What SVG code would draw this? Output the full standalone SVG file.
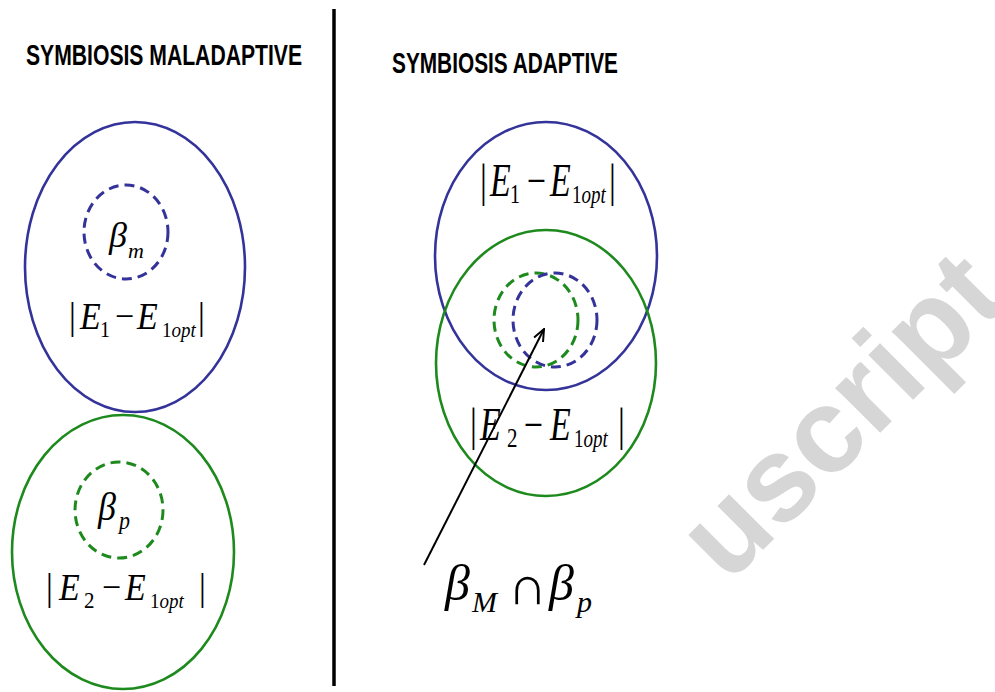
<svg xmlns="http://www.w3.org/2000/svg" width="995" height="692" viewBox="0 0 995 692">
<style>
.title{font-family:"Liberation Sans",Arial,sans-serif;font-weight:bold;font-size:30px;fill:#000}
.m{font-family:"Liberation Serif","Times New Roman",serif;fill:#000}
.i{font-style:italic}
.blue{fill:none;stroke:#333399;stroke-width:2.6}
.green{fill:none;stroke:#1e8a1e;stroke-width:2.6}
.dblue{fill:none;stroke:#333399;stroke-width:3;stroke-dasharray:10 6}
.dgreen{fill:none;stroke:#1e8a1e;stroke-width:3;stroke-dasharray:10 6}
.wm{font-family:"Liberation Sans",Arial,sans-serif;font-weight:bold;font-size:120px;fill:#d6d6d6}
</style>
<defs>
<marker id="arr" viewBox="0 0 14 12" refX="13" refY="6" markerWidth="14" markerHeight="12" markerUnits="userSpaceOnUse" orient="auto">
<path d="M1,1 L13,6 L1,11" fill="none" stroke="#000" stroke-width="2"/>
</marker>
</defs>
<rect width="995" height="692" fill="#fff"/>
<g id="watermark"><text class="wm" x="728" y="585" transform="rotate(-45 728 585)">uscript</text></g>
<g id="divider"><line x1="334" y1="9" x2="334" y2="686" stroke="#000" stroke-width="3.5"/></g>
<g id="title-maladaptive"><text class="title" x="26" y="65" textLength="276" lengthAdjust="spacingAndGlyphs">SYMBIOSIS MALADAPTIVE</text></g>
<g id="title-adaptive"><text class="title" x="392" y="73" textLength="226" lengthAdjust="spacingAndGlyphs">SYMBIOSIS ADAPTIVE</text></g>

<g id="left-blue">
<ellipse class="blue" cx="135" cy="267" rx="110" ry="145"/>
<ellipse class="dblue" cx="126" cy="232" rx="42" ry="47"/>
<text class="m" font-size="36"><tspan class="i" x="109" y="247">β</tspan><tspan class="i" x="128" y="258" font-size="22">m</tspan></text>
<g transform="translate(0,329) scale(1,1.12)">
<text class="m" font-size="34" y="0"><tspan x="69">|</tspan><tspan class="i" x="80">E</tspan><tspan x="100" y="7" font-size="20">1</tspan><tspan x="115" y="0">−</tspan><tspan class="i" x="137">E</tspan><tspan x="162" y="7" font-size="19">1</tspan><tspan class="i" font-size="19" y="7">opt</tspan><tspan x="198" y="0">|</tspan></text>
</g>
</g>

<g id="left-green">
<ellipse class="green" cx="123" cy="552" rx="111" ry="137"/>
<ellipse class="dgreen" cx="119" cy="510" rx="44" ry="48"/>
<g transform="translate(0,520) scale(1,1.12)">
<text class="m" font-size="36"><tspan class="i" x="98" y="0">β</tspan><tspan class="i" x="119" y="8" font-size="22">p</tspan></text>
</g>
<g transform="translate(0,600) scale(1,1.12)">
<text class="m" font-size="34" y="0"><tspan x="46">|</tspan><tspan class="i" x="59">E</tspan><tspan x="84" y="7" font-size="21">2</tspan><tspan x="102" y="0">−</tspan><tspan class="i" x="125">E</tspan><tspan x="150" y="7" font-size="19">1</tspan><tspan class="i" font-size="19" y="7">opt</tspan><tspan x="199" y="0">|</tspan></text>
</g>
</g>

<g id="right-blue">
<ellipse class="blue" cx="546" cy="256" rx="111" ry="134"/>
<g transform="translate(0,196) scale(1,1.35)">
<text class="m" font-size="34" y="0"><tspan x="480">|</tspan><tspan class="i" x="490">E</tspan><tspan x="510" y="5" font-size="20">1</tspan><tspan x="527" y="0">−</tspan><tspan class="i" x="550">E</tspan><tspan x="572" y="5" font-size="19">1</tspan><tspan class="i" font-size="19" y="5">opt</tspan><tspan x="609" y="0">|</tspan></text>
</g>
</g>

<g id="right-green">
<ellipse class="green" cx="546" cy="363" rx="110" ry="133"/>
<g transform="translate(0,440) scale(1,1.35)">
<text class="m" font-size="34" y="0"><tspan x="470">|</tspan><tspan class="i" x="480">E</tspan><tspan x="507" y="5" font-size="21">2</tspan><tspan x="524" y="0">−</tspan><tspan class="i" x="550">E</tspan><tspan x="574" y="5" font-size="19">1</tspan><tspan class="i" font-size="19" y="5">opt</tspan><tspan x="618" y="0">|</tspan></text>
</g>
</g>

<g id="intersection">
<ellipse class="dgreen" cx="536" cy="320" rx="42" ry="47"/>
<ellipse class="dblue" cx="555" cy="320" rx="42" ry="47"/>
</g>

<g id="label-intersection">
<text class="m" font-size="50"><tspan class="i" x="445" y="600">β</tspan><tspan class="i" x="472" y="612" font-size="30">M</tspan><tspan x="508" y="604" font-size="54">∩</tspan><tspan class="i" x="549" y="600">β</tspan><tspan class="i" x="577" y="612" font-size="30">p</tspan></text>
</g>

<g id="connectors">
<line x1="424" y1="565" x2="544" y2="329" stroke="#000" stroke-width="2" marker-end="url(#arr)"/>
</g>
</svg>
